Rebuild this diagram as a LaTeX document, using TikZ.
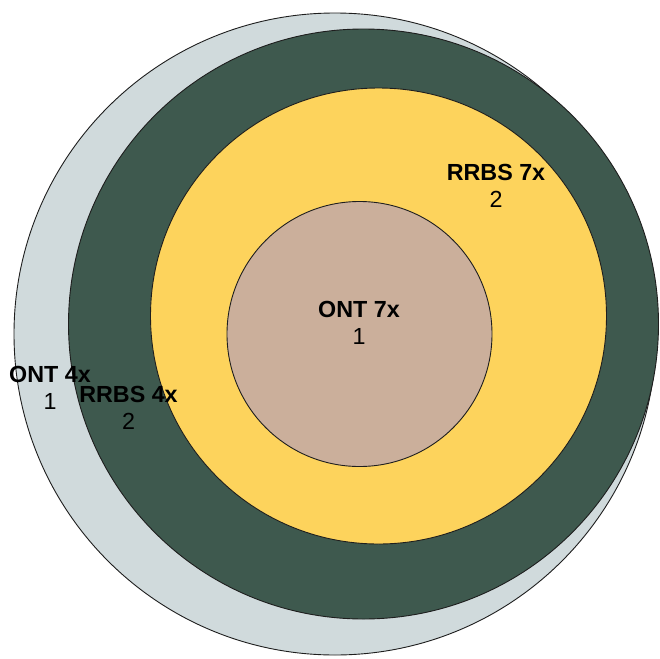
\documentclass[tikz,border=0pt]{standalone}
\usepackage{fontspec}
\setmainfont{Liberation Sans}
\definecolor{ringgrey}{RGB}{208,218,220}
\definecolor{ringgreen}{RGB}{62,89,78}
\definecolor{ringyellow}{RGB}{253,211,92}
\definecolor{ringbrown}{RGB}{203,175,155}
\definecolor{edgecol}{RGB}{30,30,30}
\tikzset{
  disc/.style={circle, draw=edgecol, line width=0.9pt, inner sep=0pt},
  lbl/.style={align=center, inner sep=0pt, font=\fontsize{23.3}{27}\selectfont, text=black}
}
\begin{document}
\begin{tikzpicture}[x=1pt,y=-1pt]
\useasboundingbox (0,0) rectangle (659,659);
\node[disc, fill=ringgrey, minimum size=642pt] (ont4) at (335,334) {};
\node[disc, fill=ringgreen, minimum size=590pt] (rrbs4) at (363.5,324) {};
\node[disc, fill=ringyellow, minimum size=456pt] (rrbs7) at (378.5,316) {};
\node[disc, fill=ringbrown, minimum size=265pt] (ont7) at (359.5,334) {};
\node[lbl] (t7) at (359,322.5) {\textbf{ONT 7x}\\1};
\node[lbl] (r7) at (496,186) {\textbf{RRBS 7x}\\2};
\node[lbl] (t4) at (50,387.5) {\textbf{ONT 4x}\\1};
\node[lbl] (r4) at (128.5,408) {\textbf{RRBS 4x}\\2};
\end{tikzpicture}
\end{document}
